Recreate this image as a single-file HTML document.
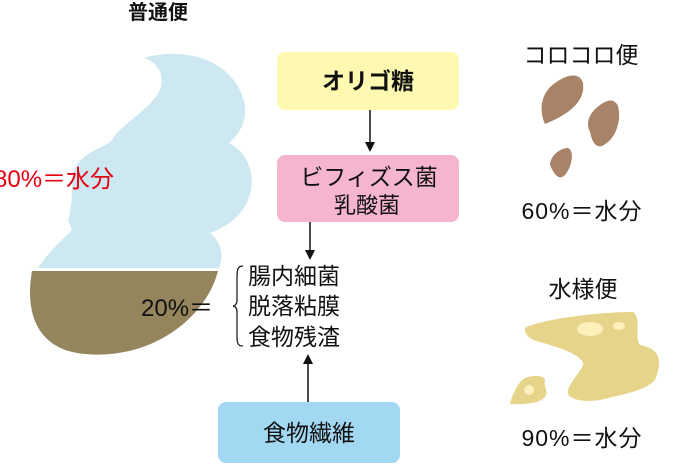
<!DOCTYPE html>
<html><head><meta charset="utf-8"><style>
html,body{margin:0;padding:0;background:#fff;}
body{width:675px;height:464px;overflow:hidden;position:relative;font-family:"Liberation Sans","Noto Sans CJK JP",sans-serif;}
svg{position:absolute;left:0;top:0;}
</style></head><body>
<svg width="675" height="464" viewBox="0 0 675 464" font-family="Liberation Sans, Noto Sans CJK JP, sans-serif">
<!-- blue poop -->
<path d="M144,58 C170,50 210,52 232,78 C250,100 250,125 229,143 C262,160 262,215 210,233 C225,245 222,260 219,268 L38,268 C50,250 62,240 72,230 L68,220 C74,205 70,180 75,168 C85,150 105,148 112,140 C120,125 150,110 160,90 C165,75 158,62 144,58 Z" fill="#cde8f0"/>
<path d="M32,271 L218,271 C205,320 150,360 85,354 C35,350 25,310 32,271 Z" fill="#95855d"/>
<text x="158" y="19" font-size="20" font-weight="bold" text-anchor="middle" fill="#111">普通便</text>
<text x="-6" y="187" font-size="24" fill="#e60012">80%＝水分</text>
<text x="141" y="316" font-size="24" fill="#111">20%＝</text>
<path d="M243,266 C237,266 237,270 237,280 L237,300 C237,304 235,306 233,306 C235,306 237,308 237,312 L237,336 C237,344 238,346 243,346" fill="none" stroke="#111" stroke-width="1.2"/>
<text font-size="23" fill="#111"><tspan x="248" y="284">腸内細菌</tspan><tspan x="248" y="314">脱落粘膜</tspan><tspan x="248" y="345">食物残渣</tspan></text>
<!-- boxes -->
<rect x="277" y="52" width="182" height="58" rx="8" fill="#fef9b0"/>
<text x="368" y="89" font-size="23" font-weight="bold" text-anchor="middle" fill="#111">オリゴ糖</text>
<rect x="277" y="155" width="182" height="67" rx="8" fill="#f5b5cf"/>
<text x="369" y="185" font-size="23" text-anchor="middle" fill="#111">ビフィズス菌</text>
<text x="367" y="213" font-size="22" text-anchor="middle" fill="#111">乳酸菌</text>
<rect x="218" y="402" width="182" height="61" rx="8" fill="#a3d8f3"/>
<text x="309" y="441" font-size="23" text-anchor="middle" fill="#111">食物繊維</text>
<line x1="370" y1="110" x2="370" y2="144" stroke="#111" stroke-width="1.5"/>
<polygon points="365,142 375,142 370,152" fill="#111"/>
<line x1="310" y1="222" x2="310" y2="252" stroke="#111" stroke-width="1.5"/>
<polygon points="305,250 315,250 310,260" fill="#111"/>
<line x1="308" y1="402" x2="308" y2="362" stroke="#111" stroke-width="1.5"/>
<polygon points="303,364 313,364 308,354" fill="#111"/>
<!-- right -->
<text x="581" y="63" font-size="23" text-anchor="middle" fill="#111">コロコロ便</text>
<path d="M545,124 C538,108 542,92 555,83 C567,74 580,72 583,83 C585,98 575,112 545,124 Z" fill="#a88367"/>
<path d="M590,132 C585,122 590,112 600,105 C610,98 615,100 618,106 C622,122 615,140 602,146 C596,148 592,142 590,132 Z" fill="#a88367"/>
<path d="M550,165 C550,156 560,148 568,148 C574,150 573,165 565,175 C560,180 555,177 550,165 Z" fill="#a88367"/>
<text x="582" y="219" font-size="23" letter-spacing="1" text-anchor="middle" fill="#111">60%＝水分</text>
<text x="583" y="297" font-size="23" text-anchor="middle" fill="#111">水様便</text>
<path d="M526,327 C550,318 600,312 633,312 C642,318 634,338 640,345 C655,348 665,355 655,380 C645,390 630,393 600,400 C580,403 565,398 568,390 C572,378 585,368 583,362 C575,352 560,348 540,342 C530,340 522,333 526,327 Z" fill="#e5d48a"/>
<path d="M510,404 C512,395 518,382 525,378 C532,375 545,375 545,380 C543,385 548,390 546,395 C543,402 530,405 510,404 Z" fill="#e5d48a"/>
<ellipse cx="590" cy="329" rx="13" ry="7" fill="#fdf0bb"/>
<ellipse cx="619" cy="326" rx="6" ry="4" fill="#fdf0bb"/>
<circle cx="529" cy="390" r="5" fill="#fdf0bb"/>
<text x="582" y="446" font-size="23" letter-spacing="1" text-anchor="middle" fill="#111">90%＝水分</text>
</svg>
</body></html>
